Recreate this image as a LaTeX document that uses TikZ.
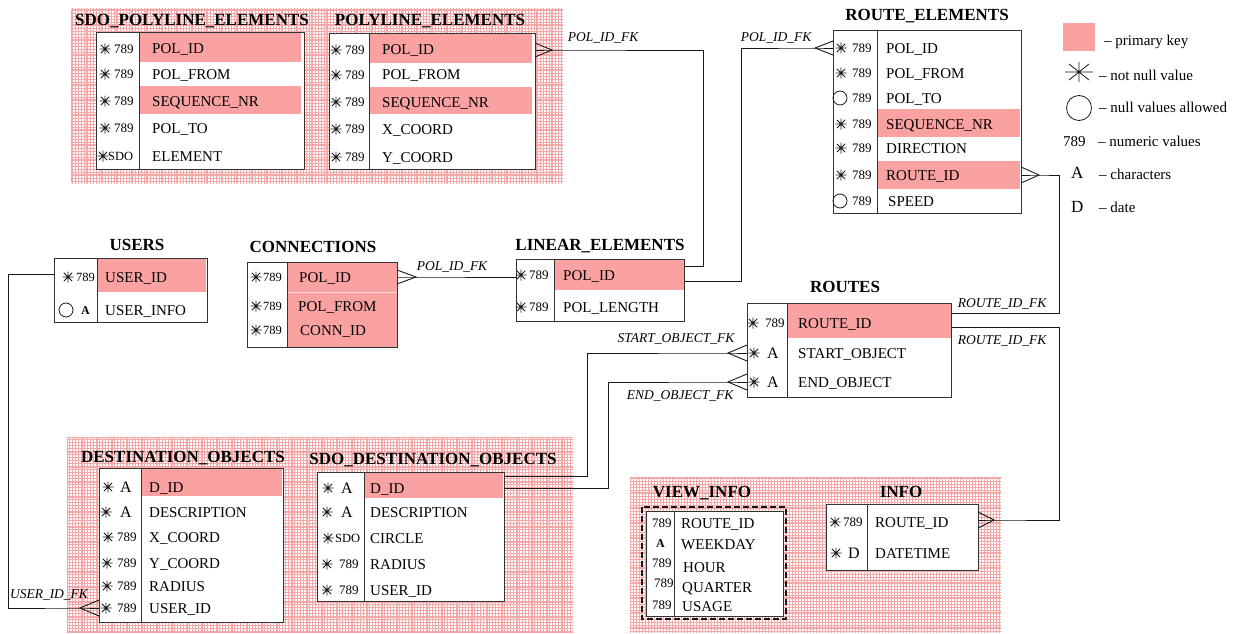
\documentclass[tikz,border=0pt]{standalone}
\usepackage{fontspec}
\setmainfont{Liberation Serif}
\usetikzlibrary{patterns,calc}

\definecolor{pkey}{RGB}{250,162,162}
\definecolor{gridpink}{RGB}{244,168,168}
\definecolor{ink}{RGB}{25,25,25}

\tikzset{
  tbody/.style={fill=white, inner sep=0pt, outer sep=0pt, anchor=north west},
  tline/.style={draw=black!80, line width=1pt},
  gridbold/.style={draw=gridpink, line width=0.7pt},
  title/.style={font=\fontsize{17}{20}\selectfont\bfseries, inner sep=0pt, text height=11.3pt, text depth=0pt},
  fld/.style={font=\fontsize{15}{18}\selectfont, anchor=west, inner sep=0pt, text height=10pt, text depth=0pt},
  typ/.style={font=\fontsize{13}{15}\selectfont, anchor=west, inner sep=0pt, text height=8.8pt, text depth=0pt},
  typsm/.style={font=\fontsize{12.5}{15}\selectfont, anchor=west, inner sep=0pt, text height=8.4pt, text depth=0pt},
  typA/.style={font=\fontsize{16}{18}\selectfont, anchor=west, inner sep=0pt, text height=10.6pt, text depth=0pt},
  typAb/.style={font=\fontsize{12}{14}\selectfont\bfseries, anchor=west, inner sep=0pt, text height=8pt, text depth=0pt},
  fk/.style={font=\fontsize{13.5}{16}\selectfont\itshape, inner sep=0pt, text height=9pt, text depth=0pt},
  leg/.style={font=\fontsize{15}{18}\selectfont, anchor=west, inner sep=0pt, text height=10pt, text depth=0pt},
  conn/.style={draw=ink, line width=0.9pt},
  nullmark/.style={draw=ink, line width=0.8pt},
  nn/.pic={\draw[ink, line width=0.8pt] (-5.5,0) -- (5.5,0) (0,-5.5) -- (0,5.5) (-4.2,-4.2) -- (4.2,4.2) (-4.2,4.2) -- (4.2,-4.2);},
  nnbig/.pic={\draw[ink, line width=0.8pt] (-14,0) -- (14,0) (0,-10) -- (0,10) (-10,-8) -- (10,8) (-10,8) -- (10,-8);},
}

% graph-paper panel: left, top, right, bottom
\newcommand\papergrid[4]{%
  \fill[white] (#1,#2) rectangle (#3,#4);
  \fill[pattern=grid, pattern color=gridpink] (#1,#2) rectangle (#3,#4);
  \pgfmathtruncatemacro\gpx{#1+15}%
  \foreach \gx in {#1,\gpx,...,#3} \draw[gridbold] (\gx,#2) -- (\gx,#4);
  \pgfmathtruncatemacro\gpy{#2+15}%
  \foreach \gy in {#2,\gpy,...,#4} \draw[gridbold] (#1,\gy) -- (#3,\gy);
}
% white table body: name, left, top, right, bottom
\newcommand\tablebox[5]{%
  \node[tbody, minimum width={(#4-#2)*1pt}, minimum height={(#5-#3)*1pt}] (#1) at (#2,#3) {};}
% frame and column divider: name, divider x, top, bottom
\newcommand\tableframe[4]{%
  \draw[tline] (#1.north west) rectangle (#1.south east);
  \draw[tline] (#2,#3) -- (#2,#4);}

\begin{document}
\begin{tikzpicture}[x=1pt,y=-1pt]
\useasboundingbox (0,0) rectangle (1239,634);

% ---------- panels ----------
\papergrid{71}{9}{563}{183}
\papergrid{67}{437}{573}{632}
\papergrid{630}{477}{1001}{632}

% ---------- SDO_POLYLINE_ELEMENTS ----------
\node[title] (spe-t) at (192,20) {SDO\_POLYLINE\_ELEMENTS};
\tablebox{spe}{96}{33}{304}{169}
\fill[pkey] (139,33) rectangle (301,62);
\fill[pkey] (139,86) rectangle (301,114);
\tableframe{spe}{139}{33}{169}
\pic at (105,49) {nn}; \node[typ] (spe-k1) at (114,49) {789};
\pic at (105,74) {nn}; \node[typ] (spe-k2) at (114,74) {789};
\pic at (105,101) {nn}; \node[typ] (spe-k3) at (114,101) {789};
\pic at (105,128) {nn}; \node[typ] (spe-k4) at (114,128) {789};
\pic at (103,156) {nn}; \node[typsm] (spe-k5) at (108,156) {SDO};
\node[fld] (spe1) at (152,49) {POL\_ID};
\node[fld] (spe2) at (152,74) {POL\_FROM};
\node[fld] (spe3) at (152,101) {SEQUENCE\_NR};
\node[fld] (spe4) at (152,128) {POL\_TO};
\node[fld] (spe5) at (152,156) {ELEMENT};

% ---------- POLYLINE_ELEMENTS ----------
\node[title] (pe-t) at (430,20) {POLYLINE\_ELEMENTS};
\tablebox{pe}{329}{34}{535}{169}
\fill[pkey] (369,34) rectangle (532,63);
\fill[pkey] (369,87) rectangle (532,114);
\tableframe{pe}{369}{34}{169}
\pic at (336,50) {nn}; \node[typ] (pe-k1) at (345,50) {789};
\pic at (336,75) {nn}; \node[typ] (pe-k2) at (345,75) {789};
\pic at (336,102) {nn}; \node[typ] (pe-k3) at (345,102) {789};
\pic at (336,129) {nn}; \node[typ] (pe-k4) at (345,129) {789};
\pic at (336,157) {nn}; \node[typ] (pe-k5) at (345,157) {789};
\node[fld] (pe1) at (382,50) {POL\_ID};
\node[fld] (pe2) at (382,75) {POL\_FROM};
\node[fld] (pe3) at (382,102) {SEQUENCE\_NR};
\node[fld] (pe4) at (382,129) {X\_COORD};
\node[fld] (pe5) at (382,157) {Y\_COORD};

% ---------- ROUTE_ELEMENTS ----------
\node[title] (re-t) at (927,15) {ROUTE\_ELEMENTS};
\tablebox{re}{833}{31}{1021}{213}
\fill[pkey] (877,109) rectangle (1020,137);
\fill[pkey] (877,161) rectangle (1020,189);
\tableframe{re}{877}{31}{213}
\pic at (841,48) {nn}; \node[typ] (re-k1) at (852,48) {789};
\pic at (841,73) {nn}; \node[typ] (re-k2) at (852,73) {789};
\draw[nullmark] (840,98) circle[radius=7]; \node[typ] (re-k3) at (852,98) {789};
\pic at (841,124) {nn}; \node[typ] (re-k4) at (852,124) {789};
\pic at (841,148) {nn}; \node[typ] (re-k5) at (852,148) {789};
\pic at (841,175) {nn}; \node[typ] (re-k6) at (852,175) {789};
\draw[nullmark] (840,201) circle[radius=7]; \node[typ] (re-k7) at (852,201) {789};
\node[fld] (re1) at (886,48) {POL\_ID};
\node[fld] (re2) at (886,73) {POL\_FROM};
\node[fld] (re3) at (886,98) {POL\_TO};
\node[fld] (re4) at (886,124) {SEQUENCE\_NR};
\node[fld] (re5) at (886,148) {DIRECTION};
\node[fld] (re6) at (886,175) {ROUTE\_ID};
\node[fld] (re7) at (888,201) {SPEED};

% ---------- USERS ----------
\node[title] (us-t) at (137,245) {USERS};
\tablebox{us}{54}{258}{207}{322}
\fill[pkey] (97,258) rectangle (206,292);
\tableframe{us}{97}{258}{322}
\pic at (68,277) {nn}; \node[typsm] (us-k1) at (76,277) {789};
\draw[nullmark] (66,310) circle[radius=7]; \node[typAb] (us-k2) at (81,310) {A};
\node[fld] (us1) at (105,277) {USER\_ID};
\node[fld] (us2) at (105,310) {USER\_INFO};

% ---------- CONNECTIONS ----------
\node[title] (co-t) at (313,247) {CONNECTIONS};
\tablebox{co}{247}{262}{397}{347}
\fill[pkey] (287,262) rectangle (397,347);
\draw[pkey!45, line width=0.5pt] (287,292) -- (397,292);
\tableframe{co}{287}{262}{347}
\pic at (256,277) {nn}; \node[typsm] (co-k1) at (263,277) {789};
\pic at (256,306) {nn}; \node[typsm] (co-k2) at (263,306) {789};
\pic at (256,330) {nn}; \node[typsm] (co-k3) at (263,330) {789};
\node[fld] (co1) at (299,277) {POL\_ID};
\node[fld] (co2) at (298,306) {POL\_FROM};
\node[fld] (co3) at (300,330) {CONN\_ID};

% ---------- LINEAR_ELEMENTS ----------
\node[title] (le-t) at (600,245) {LINEAR\_ELEMENTS};
\tablebox{le}{516}{259}{684}{321}
\fill[pkey] (554,259) rectangle (684,290);
\tableframe{le}{554}{259}{321}
\pic at (521,275) {nn}; \node[typ] (le-k1) at (529,275) {789};
\pic at (521,307) {nn}; \node[typ] (le-k2) at (529,307) {789};
\node[fld] (le1) at (563,275) {POL\_ID};
\node[fld] (le2) at (563,307) {POL\_LENGTH};

% ---------- ROUTES ----------
\node[title] (ro-t) at (845,287) {ROUTES};
\tablebox{ro}{747}{303}{951}{397}
\fill[pkey] (787,303) rectangle (951,338);
\tableframe{ro}{787}{303}{397}
\pic at (753,323) {nn}; \node[typ] (ro-k1) at (765,323) {789};
\pic at (754,353) {nn}; \node[typA] (ro-k2) at (767,353) {A};
\pic at (754,382) {nn}; \node[typA] (ro-k3) at (767,382) {A};
\node[fld] (ro1) at (798,323) {ROUTE\_ID};
\node[fld] (ro2) at (798,353) {START\_OBJECT};
\node[fld] (ro3) at (798,382) {END\_OBJECT};

% ---------- DESTINATION_OBJECTS ----------
\node[title] (do-t) at (183,457) {DESTINATION\_OBJECTS};
\tablebox{do}{99}{468}{283}{622}
\fill[pkey] (141,468) rectangle (282,496);
\tableframe{do}{141}{468}{622}
\pic at (108,487) {nn}; \node[typA] (do-k1) at (120,487) {A};
\pic at (106,512) {nn}; \node[typA] (do-k2) at (120,512) {A};
\pic at (108,537) {nn}; \node[typ] (do-k3) at (117,537) {789};
\pic at (107,563) {nn}; \node[typ] (do-k4) at (117,563) {789};
\pic at (107,586) {nn}; \node[typ] (do-k5) at (117,586) {789};
\pic at (106,608) {nn}; \node[typ] (do-k6) at (117,608) {789};
\node[fld] (do1) at (149,487) {D\_ID};
\node[fld] (do2) at (149,512) {DESCRIPTION};
\node[fld] (do3) at (149,537) {X\_COORD};
\node[fld] (do4) at (149,563) {Y\_COORD};
\node[fld] (do5) at (149,586) {RADIUS};
\node[fld] (do6) at (149,608) {USER\_ID};

% ---------- SDO_DESTINATION_OBJECTS ----------
\node[title] (sdo-t) at (433,459) {SDO\_DESTINATION\_OBJECTS};
\tablebox{sdo}{317}{472}{504}{601}
\fill[pkey] (364,472) rectangle (503,498);
\tableframe{sdo}{364}{472}{601}
\pic at (328,488) {nn}; \node[typA] (sdo-k1) at (341,488) {A};
\pic at (327,512) {nn}; \node[typA] (sdo-k2) at (341,512) {A};
\pic at (328,538) {nn}; \node[typsm] (sdo-k3) at (335,538) {SDO};
\pic at (327,564) {nn}; \node[typ] (sdo-k4) at (339,564) {789};
\pic at (327,590) {nn}; \node[typ] (sdo-k5) at (339,590) {789};
\node[fld] (sdo1) at (370,488) {D\_ID};
\node[fld] (sdo2) at (370,512) {DESCRIPTION};
\node[fld] (sdo3) at (370,538) {CIRCLE};
\node[fld] (sdo4) at (370,564) {RADIUS};
\node[fld] (sdo5) at (370,590) {USER\_ID};

% ---------- VIEW_INFO (view) ----------
\node[title] (vi-t) at (702,492) {VIEW\_INFO};
\draw[ink, line width=1.8pt, dash pattern=on 6pt off 3pt] (642,507) rectangle (786,619);
\tablebox{vi}{646}{511}{783}{616}
\tableframe{vi}{674}{511}{616}
\node[typ] (vi-k1) at (652,523) {789};
\node[typAb] (vi-k2) at (656,543) {A};
\node[typ] (vi-k3) at (652,563) {789};
\node[typ] (vi-k4) at (654,583) {789};
\node[typ] (vi-k5) at (652,605) {789};
\node[fld] (vi1) at (681,523) {ROUTE\_ID};
\node[fld] (vi2) at (681,544) {WEEKDAY};
\node[fld] (vi3) at (683,567) {HOUR};
\node[fld] (vi4) at (682,587) {QUARTER};
\node[fld] (vi5) at (682,606) {USAGE};

% ---------- INFO ----------
\node[title] (in-t) at (901,492) {INFO};
\tablebox{in}{826}{504}{978}{570}
\tableframe{in}{867}{504}{570}
\pic at (835,522) {nn}; \node[typ] (in-k1) at (843,522) {789};
\pic at (836,553) {nn}; \node[typA] (in-k2) at (848,553) {D};
\node[fld] (in1) at (875,522) {ROUTE\_ID};
\node[fld] (in2) at (875,553) {DATETIME};

% ---------- legend ----------
\fill[pkey] (1063,23) rectangle (1095,51);
\node[leg] (lg1) at (1104,41) {-- primary key};
\pic at (1079,72) {nnbig};
\node[leg] (lg2) at (1099,76) {-- not null value};
\draw[nullmark] (1079,108) circle[radius=12.5];
\node[leg] (lg3) at (1099,107) {-- null values allowed};
\node[leg] (lg4s) at (1063,141) {789};
\node[leg] (lg4) at (1098,141) {-- numeric values};
\node[font=\fontsize{17}{20}\selectfont, anchor=west, inner sep=0pt, text height=11.3pt, text depth=0pt] (lg5s) at (1071,173) {A};
\node[leg] (lg5) at (1099,174) {-- characters};
\node[font=\fontsize{17}{20}\selectfont, anchor=west, inner sep=0pt, text height=11.3pt, text depth=0pt] (lg6s) at (1071,207) {D};
\node[leg] (lg6) at (1099,207) {-- date};

% ---------- relationships ----------
% POLYLINE_ELEMENTS -> LINEAR_ELEMENTS
\coordinate (cfa) at (552,50);
\draw[conn] ($(pe.east|-pe1)+(0,-7)$) -- (cfa) -- ($(pe.east|-pe1)+(0,7)$);
\draw[conn] (pe.east|-pe1) -- (cfa) -| ($(le.north east)+(19,7)$) -- ($(le.north east)+(0,7)$);
\node[fk] (fka) at (603,37) {POL\_ID\_FK};

% LINEAR_ELEMENTS -> ROUTE_ELEMENTS
\coordinate (cfb) at (815,48);
\draw[conn] ($(re.west|-re1)+(0,-7)$) -- (cfb) -- ($(re.west|-re1)+(0,7)$);
\draw[conn] (le.east|-0,281) -| (741,48) -- (cfb) -- (re.west|-re1);
\node[fk] (fkb) at (776,37) {POL\_ID\_FK};

% CONNECTIONS -> LINEAR_ELEMENTS
\coordinate (cfc) at (416,277);
\draw[conn] ($(co.east|-co1)+(0,-7)$) -- (cfc) -- ($(co.east|-co1)+(0,7)$);
\draw[conn] (co.east|-co1) -- (cfc) -- (le.west|-cfc);
\node[fk] (fkc) at (452,266) {POL\_ID\_FK};

% ROUTE_ELEMENTS -> ROUTES
\coordinate (cfd) at (1039,175);
\draw[conn] ($(re.east|-re6)+(0,-8)$) -- (cfd) -- ($(re.east|-re6)+(0,8)$);
\draw[conn] (re.east|-re6) -- (cfd) -| (1059,313) -- (ro.east|-0,313);
\node[fk] (fkd) at (1002,303) {ROUTE\_ID\_FK};

% INFO -> ROUTES
\coordinate (cfe) at (994,520);
\draw[conn] ($(in.east|-cfe)+(0,-8)$) -- (cfe) -- ($(in.east|-cfe)+(0,8)$);
\draw[conn] (ro.east|-0,327) -| (1059,520) -- (cfe) -- (in.east|-cfe);
\node[fk] (fke) at (1002,340) {ROUTE\_ID\_FK};

% ROUTES start object -> SDO_DESTINATION_OBJECTS
\coordinate (cff) at (728,353);
\draw[conn] ($(ro.west|-ro2)+(0,-8)$) -- (cff) -- ($(ro.west|-ro2)+(0,8)$);
\draw[conn] (ro.west|-ro2) -- (cff) -| (587,476) -- (sdo.east|-0,476);
\node[fk] (fkf) at (676,338) {START\_OBJECT\_FK};

% ROUTES end object -> SDO_DESTINATION_OBJECTS
\coordinate (cfg) at (728,382);
\draw[conn] ($(ro.west|-ro3)+(0,-8)$) -- (cfg) -- ($(ro.west|-ro3)+(0,8)$);
\draw[conn] (ro.west|-ro3) -- (cfg) -| (608,488) -- (sdo.east|-sdo1);
\node[fk] (fkg) at (680,395) {END\_OBJECT\_FK};

% DESTINATION_OBJECTS -> USERS
\coordinate (cfh) at (80,608);
\draw[conn] ($(do.west|-do6)+(0,-8)$) -- (cfh) -- ($(do.west|-do6)+(0,8)$);
\draw[conn] (us.west|-0,274) -| (8,608) -- (cfh) -- (do.west|-do6);
\node[fk] (fkh) at (49,594) {USER\_ID\_FK};
\end{tikzpicture}
\end{document}
